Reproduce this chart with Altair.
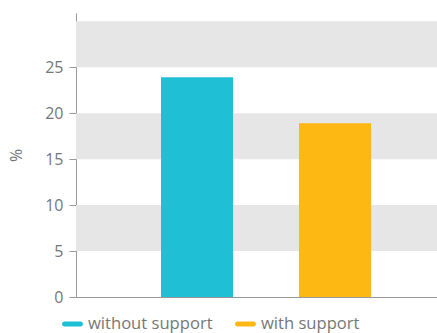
import altair as alt
import pandas as pd

categories = ["without support", "with support"]
values = [23.9, 18.9]
colors = ["#1FBFD6", "#FDB813"]
band_lo = [5, 15, 25]
band_hi = [10, 20, 30]
y_ticks = [0, 5, 10, 15, 20, 25]

bars_df = pd.DataFrame({"cat": categories, "val": values})
bands_df = pd.DataFrame({"lo": band_lo, "hi": band_hi})

W, H = 361, 284
yscale = alt.Scale(domain=[0, 30.9], nice=False, zero=True)
cscale = alt.Scale(domain=categories, range=colors)
FONT = "Open Sans"
PILL = ("M-0.76,-0.238 L0.76,-0.238 A0.238,0.238 0 0 1 0.76,0.238 "
        "L-0.76,0.238 A0.238,0.238 0 0 1 -0.76,-0.238 Z")

bands = alt.Chart(bands_df).mark_rect(color="#E6E6E6").encode(
    x=alt.value(0), x2=alt.value(W),
    y=alt.Y("lo:Q", scale=yscale,
            axis=alt.Axis(values=y_ticks, title="%", grid=False,
                          tickSize=7, labelPadding=6, titlePadding=20)),
    y2="hi:Q",
)

bars = alt.Chart(bars_df).mark_bar().encode(
    x=alt.X("cat:N", sort=categories,
            scale=alt.Scale(paddingInner=0.478, paddingOuter=0.547, align=0.563),
            axis=alt.Axis(labels=False, ticks=False, title=None, domain=True)),
    y=alt.Y("val:Q", scale=yscale),
    color=alt.Color("cat:N", sort=categories, scale=cscale,
                    legend=alt.Legend(title=None, orient="none", direction="horizontal",
                                      legendX=-14, legendY=H + 16,
                                      symbolType=PILL, symbolSize=441,
                                      symbolStrokeWidth=0,
                                      labelFontSize=16.6, labelColor="#777",
                                      columnPadding=22, labelOffset=5)),
)

chart = alt.layer(bands, bars).properties(
    width=W, height=H,
    padding={"left": 76, "top": 13, "right": 0, "bottom": 36},
    autosize=alt.AutoSizeParams(type="none"),
).configure_view(stroke=None).configure_axis(
    labelFont=FONT, titleFont=FONT, labelFontSize=16, titleFontSize=16,
    labelColor="#777", titleColor="#777", domainColor="#999", tickColor="#999",
    titleFontWeight="normal",
).configure_legend(labelFont=FONT)

chart.save("out.html", embed_options={"renderer": "svg", "actions": False})
